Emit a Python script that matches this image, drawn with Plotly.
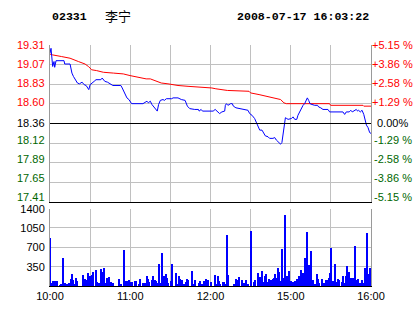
import plotly.graph_objects as go

# ---------------- data ----------------
prev_close = 18.36

# minutes since 10:00 (trading minutes, lunch break removed: 12:30 -> 14:30)
price_t = [0, 0.75, 2, 3, 3.5, 4.5, 10.5, 11, 15, 16.4, 17.5, 19.4, 20.5, 22, 24, 25.5, 27, 29, 30, 33,
           34.4, 38, 39, 41, 43, 47, 53, 54, 56, 57.5, 59, 61, 69.5, 71, 72.5, 73.5, 75, 76.2, 78.3, 80.2,
           81.2, 82.5, 84.5, 85.5, 87, 91, 92, 95.7, 98.2, 101, 102.7, 104.5, 108.2, 111, 111.5, 113, 114,
           122, 123.5, 125.6, 126.8, 128.5, 130.6, 131.1, 131.9, 133, 135.1, 136.3, 137.1, 139, 141.5,
           146.8, 148, 149.3, 151, 153, 154.3, 155.5, 156.8, 158.5, 159.7, 161, 163, 164.2, 166.7, 168,
           169.2, 171, 172.4, 173.4, 174.2, 175, 176, 177, 178, 180.5, 181.7, 183, 184.5, 185.4, 186.9,
           187.9, 189.2, 190.4, 191.6, 192.4, 193.4, 194.4, 195.9, 197.9, 200, 200.9, 202.4, 204.1, 207.8,
           209.1, 219, 220.3, 221.5, 223.7, 224.3, 224.9, 226, 229, 230, 230.7, 232, 233.3, 234.6, 235.6,
           236.6, 237.8, 239, 240]
price_v = [19.21, 19.27, 19.05, 19.11, 19.04, 19.12, 19.12, 19.08, 19.08, 18.97, 18.93, 18.87, 18.85, 18.84,
           18.86, 18.83, 18.82, 18.77, 18.83, 18.87, 18.89, 18.89, 18.91, 18.87, 18.86, 18.82, 18.82, 18.79,
           18.73, 18.67, 18.65, 18.60, 18.60, 18.62, 18.63, 18.61, 18.63, 18.59, 18.55, 18.51, 18.59, 18.64,
           18.65, 18.64, 18.66, 18.66, 18.67, 18.67, 18.65, 18.64, 18.57, 18.54, 18.53, 18.53, 18.51, 18.53,
           18.51, 18.51, 18.53, 18.50, 18.48, 18.50, 18.51, 18.58, 18.60, 18.58, 18.60, 18.60, 18.57, 18.55,
           18.54, 18.52, 18.52, 18.48, 18.46, 18.42, 18.37, 18.31, 18.28, 18.28, 18.25, 18.21, 18.20, 18.18,
           18.18, 18.19, 18.16, 18.13, 18.11, 18.13, 18.21, 18.31, 18.43, 18.42, 18.41, 18.42, 18.44, 18.41,
           18.41, 18.46, 18.51, 18.55, 18.58, 18.60, 18.65, 18.67, 18.64, 18.60, 18.59, 18.58, 18.58, 18.56,
           18.55, 18.53, 18.53, 18.50, 18.50, 18.47, 18.50, 18.50, 18.51, 18.52, 18.50, 18.53, 18.51, 18.52,
           18.50, 18.52, 18.47, 18.39, 18.34, 18.31, 18.25, 18.24]

avg_t = [0, 2, 8.7, 15, 21.2, 26.2, 28.7, 31.2, 34.9, 39.9, 47.4, 54.8, 59.8, 65.8, 71.9, 75, 79.5, 83.2,
         88.2, 95.7, 103.2, 113.2, 121, 124, 132.6, 148.8, 150, 156.3, 162.5, 168.7, 172.4, 174.9, 176.7,
         209, 209.8, 234, 234.6, 240]
avg_v = [19.20, 19.19, 19.17, 19.15, 19.11, 19.08, 19.05, 19.01, 19.00, 18.98, 18.97, 18.96, 18.94, 18.92,
         18.90, 18.90, 18.87, 18.85, 18.84, 18.82, 18.81, 18.80, 18.79, 18.78, 18.76, 18.75, 18.73, 18.71,
         18.69, 18.67, 18.65, 18.61, 18.60, 18.60, 18.58, 18.58, 18.57, 18.57]

vol_t = [0, 1, 2, 3, 4, 5, 7, 8, 9, 11, 12, 14, 15, 16, 17, 18, 19, 20, 24, 25, 26, 27, 28, 29, 30, 31, 32,
         34, 35, 36, 38, 39, 40, 41, 42, 44, 45, 47, 51, 53, 55, 56, 57, 58, 59, 60, 61, 63, 64, 66, 67, 69,
         71, 72, 73, 74, 76, 77, 78, 79, 80, 81, 82, 83, 84, 85, 86, 87, 88, 90, 91, 94, 95, 96, 97, 98, 99,
         100, 101, 102, 103, 106, 107, 108, 111, 112, 113, 115, 116, 117, 118, 120,
         123, 124, 125, 126, 127, 129, 130, 131, 132, 133, 137, 139, 140, 141, 143, 144, 145, 146, 147, 148,
         150, 152, 153, 155, 156, 157, 158, 159, 160, 161, 162, 163, 164, 165, 166, 167, 168, 169, 170, 171,
         172, 173, 174, 175, 176, 177, 178, 179, 180, 181, 182, 183, 184, 185, 186, 187, 188, 189, 190, 191,
         192, 193, 194, 195, 196, 198, 199, 200, 201, 203, 204, 205, 206, 207, 208, 209, 210, 211, 212, 213,
         214, 215, 216, 218, 219, 220, 221, 222, 223, 225, 226, 227, 228, 229, 230, 231, 232, 233, 234, 235,
         236, 237, 238, 239]
vol_v = [880, 60, 90, 90, 60, 90, 30, 40, 507, 60, 40, 60, 130, 220, 120, 40, 150, 90, 210, 40, 130, 110, 240,
         180, 190, 210, 256, 300, 80, 60, 310, 260, 330, 60, 150, 170, 80, 60, 130, 40, 655, 90, 90, 60, 120,
         70, 70, 90, 90, 40, 130, 60, 60, 180, 130, 70, 110, 180, 120, 100, 60, 400, 60, 608, 70, 180, 220,
         150, 60, 90, 400, 250, 50, 180, 130, 110, 40, 40, 70, 130, 120, 270, 40, 110, 60, 90, 40, 90, 130,
         90, 120, 70,
         210, 40, 190, 90, 50, 70, 70, 40, 935, 210, 40, 130, 110, 170, 110, 60, 60, 110, 40, 40,
         1000, 70, 110, 250, 90, 170, 270, 70, 190, 220, 70, 130, 60, 110, 130, 150, 220, 150, 330, 256,
         90, 670, 150, 1293, 90, 180, 280, 70, 90, 70, 70, 90, 130, 40, 190, 300, 70, 240, 507, 490,
         983, 390, 60, 644, 110, 40, 220, 130, 60, 130, 60, 60, 110, 110, 150, 240, 700, 90, 70, 405,
         70, 130, 120, 70, 180, 60, 190, 375, 256, 150, 150, 110, 727, 110, 130, 60, 60, 120, 60, 340,
         120, 965, 226, 340]

price_ticks = [19.31, 19.07, 18.83, 18.60, 18.36, 18.12, 17.89, 17.65, 17.41]
price_tick_text = ["19.31", "19.07", "18.83", "18.60", "18.36", "18.12", "17.89", "17.65", "17.41"]
pct_tick_text = ["+5.15 %", "+3.86 %", "+2.58 %", "+1.29 %", "0.00%", "-1.29 %", "-2.58 %", "-3.86 %", "-5.15 %"]
time_ticks = [0, 30, 60, 90, 120, 150, 180, 210, 240]
time_tick_text = ["10:00", "", "11:00", "", "12:00", "", "15:00", "", "16:00"]
vol_ticks = [350, 700, 1050, 1400]
vol_tick_text = ["350", "700", "1050", "1400"]

stock_code = "02331"
stock_name = "李宁"
timestamp = "2008-07-17 16:03:22"

# ---------------- style ----------------
RED = "#ff0000"
GREEN = "#006600"
BLUE = "#0000ff"
GRID = "#c0c0c0"
AXIS = "#9a9a9a"
FONT = "Liberation Sans"

W, H = 414, 314
ML, MR, MT, MB = 50, 43, 45, 26
plot_w = W - ML - MR
plot_h = H - MT - MB
PRICE_TOP_PX, PRICE_BOT_PX = 45.0, 203.3
LABEL_BOT_PX = 198.3   # the lowest price labels sit a little above the bottom line


def px_x(px):
    return (px - ML) / plot_w


def px_y(py):
    return (H - MB - py) / plot_h


def level_color(v):
    if v > prev_close + 1e-9:
        return RED
    if v < prev_close - 1e-9:
        return GREEN
    return "#000000"


fig = go.Figure()
fig.add_trace(go.Scatter(x=avg_t, y=avg_v, mode="lines", line=dict(color=RED, width=1),
                         xaxis="x", yaxis="y", hoverinfo="skip"))
fig.add_trace(go.Scatter(x=price_t, y=price_v, mode="lines", line=dict(color=BLUE, width=1),
                         xaxis="x", yaxis="y", hoverinfo="skip"))
fig.add_trace(go.Bar(x=vol_t, y=vol_v, width=0.75, offset=0,
                     marker=dict(color=BLUE, line=dict(width=0)), xaxis="x2", yaxis="y2"))

price_dom = [px_y(PRICE_BOT_PX), 1.0]
vol_dom = [0.0, px_y(210)]

fig.update_layout(
    width=W, height=H,
    margin=dict(l=ML, r=MR, t=MT, b=MB, pad=0),
    paper_bgcolor="white", plot_bgcolor="white",
    showlegend=False, bargap=0,
    font=dict(family=FONT, size=11, color="#000000"),
    xaxis=dict(domain=[0, 1], anchor="y", range=[0, 240], tickvals=time_ticks,
               showticklabels=False, ticks="", showgrid=True, gridcolor=GRID, gridwidth=1,
               showline=True, linecolor="#000000", linewidth=1, zeroline=False),
    yaxis=dict(domain=price_dom, anchor="x", range=[price_ticks[-1], price_ticks[0]],
               tickvals=price_ticks, showticklabels=False, ticks="",
               showgrid=True, gridcolor=GRID, gridwidth=1, showline=True, linecolor=AXIS,
               linewidth=1, mirror=True, zeroline=False),
    xaxis2=dict(domain=[0, 1], anchor="y2", range=[0, 240], tickvals=time_ticks,
                ticktext=time_tick_text, ticks="", showgrid=True, gridcolor=GRID, gridwidth=1,
                showline=True, linecolor="#000000", linewidth=1, zeroline=False,
                tickfont=dict(family=FONT, size=11, color="#000000")),
    yaxis2=dict(domain=vol_dom, anchor="x2", range=[0, 1400], tickvals=vol_ticks,
                ticktext=vol_tick_text, ticks="", ticklabelstandoff=2, showgrid=True,
                gridcolor=GRID, gridwidth=1, showline=True, linecolor=AXIS, linewidth=1,
                mirror=True, zeroline=False, tickfont=dict(family=FONT, size=11, color="#000000")),
)

# previous close reference line
fig.add_shape(type="line", xref="x", yref="y", x0=0, x1=240, y0=prev_close, y1=prev_close,
              line=dict(color="#000000", width=1))

# price / percent labels: evenly spaced from top to just above the bottom line,
# except the previous-close label which sits on its line
n = len(price_ticks)
span = price_ticks[0] - price_ticks[-1]
annotations = []
for i, (v, t, pt) in enumerate(zip(price_ticks, price_tick_text, pct_tick_text)):
    if abs(v - prev_close) < 1e-9:
        ypx = PRICE_TOP_PX + (price_ticks[0] - v) / span * (PRICE_BOT_PX - PRICE_TOP_PX)
    else:
        ypx = PRICE_TOP_PX + i * (LABEL_BOT_PX - PRICE_TOP_PX) / (n - 1)
    c = level_color(v)
    annotations.append(dict(x=px_x(47), y=px_y(ypx), xref="paper", yref="paper", text=t,
                            showarrow=False, xanchor="right", yanchor="middle",
                            font=dict(family=FONT, size=11, color=c)))
    annotations.append(dict(x=px_x(392.5), y=px_y(ypx), xref="paper", yref="paper", text=pt,
                            showarrow=False, xanchor="center", yanchor="middle",
                            font=dict(family=FONT, size=11, color=c)))

annotations.append(dict(x=px_x(50), y=px_y(16.5), xref="paper", yref="paper", text=f"<b>{stock_code}</b>",
                        showarrow=False, xanchor="left", yanchor="middle",
                        font=dict(family="Liberation Mono", size=11.6, color="#000000")))
annotations.append(dict(x=px_x(103), y=px_y(15.5), xref="paper", yref="paper", text=stock_name,
                        showarrow=False, xanchor="left", yanchor="middle",
                        font=dict(family="Noto Sans CJK SC", size=13, color="#000000")))
annotations.append(dict(x=px_x(371), y=px_y(16.5), xref="paper", yref="paper", text=f"<b>{timestamp}</b>",
                        showarrow=False, xanchor="right", yanchor="middle",
                        font=dict(family="Liberation Mono", size=11.6, color="#000000")))
fig.update_layout(annotations=annotations)

fig.write_html("out.html")
